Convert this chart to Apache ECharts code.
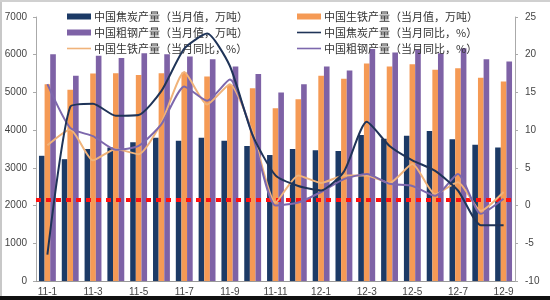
<!DOCTYPE html>
<html>
<head>
<meta charset="utf-8">
<script src="https://cdn.jsdelivr.net/npm/echarts@6/dist/echarts.min.js"></script>
<style>
html,body{margin:0;padding:0;background:#fff;}
#wrap{position:relative;width:550px;height:300px;overflow:hidden;background:#fff;}
#chart{position:absolute;left:0;top:0;width:550px;height:300px;}
#bline{position:absolute;left:0;top:296px;width:550px;height:4px;background:#111;}
#lline{position:absolute;left:0;top:0;width:2px;height:296px;background:#c8c8c8;}
#tline{position:absolute;left:0;top:0;width:550px;height:2px;background:#d0d0d0;}
</style>
</head>
<body>
<div id="wrap"><div id="chart"></div><div id="lline"></div><div id="tline"></div><div id="bline"></div></div>
<script>
const categories = ['11-1','11-2','11-3','11-4','11-5','11-6','11-7','11-8','11-9','11-10','11-11','11-12','12-1','12-2','12-3','12-4','12-5','12-6','12-7','12-8','12-9'];
const cokeMonthly = [3320,3230,3500,3540,3680,3800,3720,3800,3720,3580,3340,3500,3470,3450,3870,3770,3850,3980,3760,3610,3540];
const ironMonthly = [5220,5070,5500,5510,5460,5510,5530,5420,5200,5110,4580,4820,5440,5360,5770,5690,5750,5600,5640,5390,5290];
const steelMonthly = [6010,5440,5970,5910,6040,6010,5950,5880,5690,5490,5000,5220,5690,5580,6150,6060,6130,6040,6170,5880,5820];
const ironYoY = [8.0,10.1,6.0,7.5,6.8,11.0,17.7,13.4,16.1,9.7,0.4,4.0,3.0,4.0,4.0,3.0,5.5,1.5,3.1,-0.7,1.8];
const cokeYoY = [-6.5,13.1,13.5,11.9,12.0,15.2,20.8,22.8,18.5,9.3,4.0,2.6,2.0,4.5,11.1,7.9,6.0,4.6,2.0,-2.6,-2.6];
const steelYoY = [16.1,10.3,9.2,7.4,7.9,10.8,15.8,13.9,16.7,9.3,0.0,0.4,1.8,3.5,4.2,2.9,2.6,1.3,4.2,-1.1,0.9];
const refLevel = 2150;
const leftTicks = [0,1000,2000,3000,4000,5000,6000,7000];
const rightTicks = [-10,-5,0,5,10,15,20,25];

const names = {
  cokeM:'中国焦炭产量（当月值，万吨）',
  ironM:'中国生铁产量（当月值，万吨）',
  steelM:'中国粗钢产量（当月值，万吨）',
  cokeY:'中国焦炭产量（当月同比，%）',
  ironY:'中国生铁产量（当月同比，%）',
  steelY:'中国粗钢产量（当月同比，%）'
};
const C = {navy:'#1c3a66', orange:'#f59a55', purple:'#7e62a6', lnNavy:'#1f3458', lnOrange:'#f0b37a', lnPurple:'#7d68ad'};
const lineIcon = 'path://M0,0 L30,0 L30,2 L0,2 Z';
const font = '"Noto Sans CJK SC","Noto Sans",sans-serif';

const chart = echarts.init(document.getElementById('chart'), null, {renderer:'canvas'});
const legendCommon = {orient:'vertical', itemWidth:24, itemHeight:6, itemGap:5,
  textStyle:{fontSize:11, color:'#333', fontFamily:font, padding:[0,0,0,-2]}};
chart.setOption({
  animation:false,
  backgroundColor:'#fff',
  legend:[
    Object.assign({left:62, top:6, data:[
      {name:names.cokeM, icon:'rect'},
      {name:names.steelM, icon:'rect'},
      {name:names.ironY, icon:lineIcon}]}, legendCommon),
    Object.assign({left:292, top:6, data:[
      {name:names.ironM, icon:'rect'},
      {name:names.cokeY, icon:lineIcon},
      {name:names.steelY, icon:lineIcon}]}, legendCommon)
  ],
  grid:{left:36, right:35, top:17, bottom:19, containLabel:false},
  xAxis:{type:'category', data:categories,
    axisLine:{lineStyle:{color:'#999'}}, axisTick:{show:false},
    axisLabel:{interval:1, fontSize:10, color:'#444', margin:6, fontFamily:'"Liberation Sans",sans-serif'}},
  yAxis:[
    {type:'value', min:leftTicks[0], max:leftTicks[leftTicks.length-1], interval:1000,
     splitLine:{show:false}, axisLine:{show:true, lineStyle:{color:'#aaa'}},
     axisTick:{show:true, length:3, lineStyle:{color:'#aaa'}},
     axisLabel:{fontSize:10, color:'#444', margin:9, fontFamily:'"Liberation Sans",sans-serif',
       formatter:function(v){return String(v);}}},
    {type:'value', min:rightTicks[0], max:rightTicks[rightTicks.length-1], interval:5,
     splitLine:{show:false}, axisLine:{show:true, lineStyle:{color:'#aaa'}},
     axisTick:{show:true, length:3, lineStyle:{color:'#aaa'}},
     axisLabel:{fontSize:10, color:'#444', margin:10, fontFamily:'"Liberation Sans",sans-serif',
       formatter:function(v){return String(v);}}}
  ],
  series:[
    {name:names.cokeM, type:'bar', data:cokeMonthly, itemStyle:{color:C.navy}, barGap:'0%', barCategoryGap:'26%'},
    {name:names.ironM, type:'bar', data:ironMonthly, itemStyle:{color:C.orange}},
    {name:names.steelM, type:'bar', data:steelMonthly, itemStyle:{color:C.purple},
     markLine:{silent:true, symbol:['none','none'], label:{show:false}, z:5,
       lineStyle:{color:'#ff1010', width:4, type:[5,5]},
       data:[{yAxis:refLevel}]}},
    {name:names.ironY, type:'line', yAxisIndex:1, data:ironYoY, showSymbol:false, smooth:0.2,
     lineStyle:{color:C.lnOrange, width:2}, itemStyle:{color:C.lnOrange}, z:6},
    {name:names.steelY, type:'line', yAxisIndex:1, data:steelYoY, showSymbol:false, smooth:0.2,
     lineStyle:{color:C.lnPurple, width:2}, itemStyle:{color:C.lnPurple}, z:7},
    {name:names.cokeY, type:'line', yAxisIndex:1, data:cokeYoY, showSymbol:false, smooth:0.2,
     lineStyle:{color:C.lnNavy, width:2}, itemStyle:{color:C.lnNavy}, z:8}
  ]
});
</script>
</body>
</html>
